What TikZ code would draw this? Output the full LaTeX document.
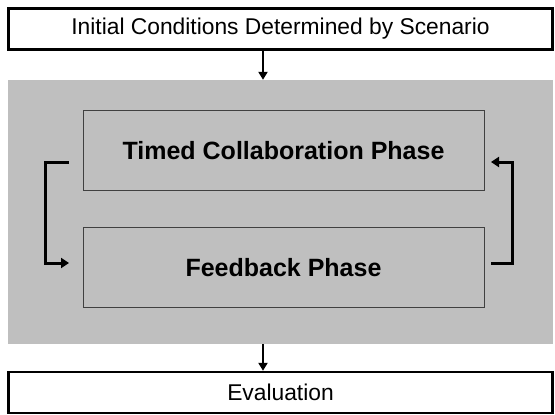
\documentclass[tikz,border=0pt]{standalone}
\usepackage{fontspec}
\setmainfont{Liberation Sans}
\usetikzlibrary{arrows.meta}
\begin{document}
\begin{tikzpicture}[x=1pt,y=-1pt,
  outerbox/.style={draw=black,line width=2.4pt,fill=white,minimum width=544pt,minimum height=41pt,inner sep=0pt,font=\fontsize{22.8}{26}\selectfont},
  phasebox/.style={draw=black!75,line width=1pt,fill=none,minimum width=401pt,minimum height=80pt,inner sep=0pt,font=\bfseries\fontsize{25}{28}\selectfont},
  flow/.style={line width=2.6pt,-{Triangle[length=8pt,width=9pt]}},
  loop/.style={line width=3pt,line cap=butt,-{Triangle[length=8pt,width=10pt]}}]
\useasboundingbox (0,0) rectangle (555,415);
\fill[white] (0,0) rectangle (555,415);
\node[fill=black!25,draw=none,minimum width=545pt,minimum height=264pt,inner sep=0pt] (grey) at (280.5,212) {};
\node[outerbox] (init) at (280.5,29) {Initial Conditions Determined by Scenario};
\node[outerbox] (eval) at (280.5,392.5) {Evaluation};
\node[phasebox] (timed) at (283.5,150.5) {\raisebox{-2.5pt}{Timed Collaboration Phase}};
\node[phasebox] (feed) at (283.5,267.5) {\raisebox{-2.5pt}{Feedback Phase}};
\draw[flow] (init.south -| 263,0) -- (grey.north -| 263,0);
\draw[flow] (grey.south -| 263,0) -- (eval.north -| 263,0);
\coordinate (lt) at (69,162);
\coordinate (lb) at (69,263);
\coordinate (rt) at (491,162);
\coordinate (rb) at (491,263);
\draw[loop] (lt) -- (45,162) -- (45,263) -- (lb);
\draw[loop] (rb) -- (512,263) -- (512,162) -- (rt);
\end{tikzpicture}
\end{document}
